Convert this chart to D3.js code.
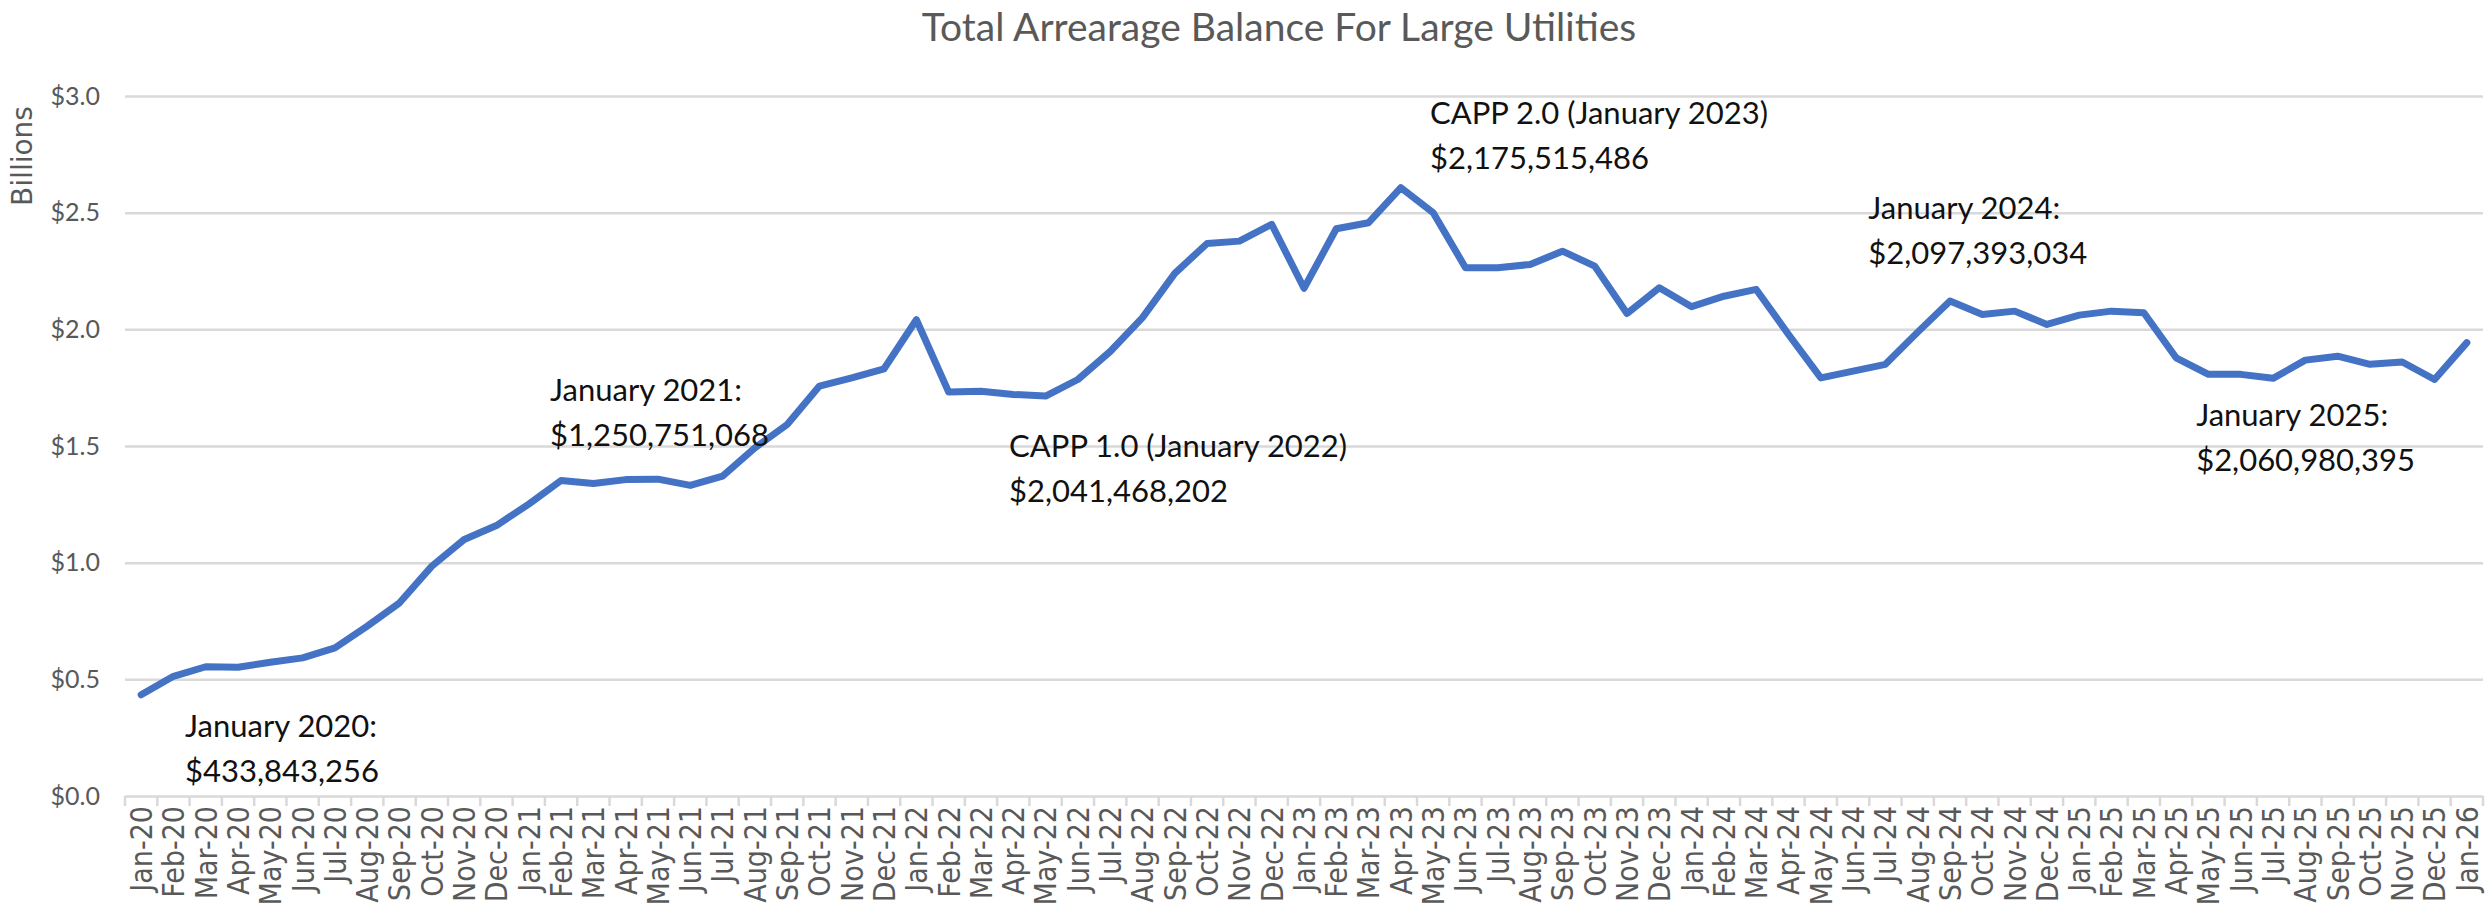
<!DOCTYPE html>
<html>
<head>
<meta charset="utf-8">
<script src="https://cdn.jsdelivr.net/npm/d3@7"></script>
<style>
  body { margin: 0; background: #fff; }
  svg { display: block; }
</style>
</head>
<body>
<div id="chart"></div>
<script>
(function() {

// monthly labels, Jan-20 .. Jan-26
var months = ["Jan-20","Feb-20","Mar-20","Apr-20","May-20","Jun-20","Jul-20","Aug-20","Sep-20","Oct-20","Nov-20","Dec-20",
  "Jan-21","Feb-21","Mar-21","Apr-21","May-21","Jun-21","Jul-21","Aug-21","Sep-21","Oct-21","Nov-21","Dec-21",
  "Jan-22","Feb-22","Mar-22","Apr-22","May-22","Jun-22","Jul-22","Aug-22","Sep-22","Oct-22","Nov-22","Dec-22",
  "Jan-23","Feb-23","Mar-23","Apr-23","May-23","Jun-23","Jul-23","Aug-23","Sep-23","Oct-23","Nov-23","Dec-23",
  "Jan-24","Feb-24","Mar-24","Apr-24","May-24","Jun-24","Jul-24","Aug-24","Sep-24","Oct-24","Nov-24","Dec-24",
  "Jan-25","Feb-25","Mar-25","Apr-25","May-25","Jun-25","Jul-25","Aug-25","Sep-25","Oct-25","Nov-25","Dec-25",
  "Jan-26"];

// total arrearage balance, billions of dollars
var balance = [0.434,0.513,0.554,0.552,0.573,0.592,0.635,0.728,0.828,0.985,1.099,1.159,
  1.251,1.352,1.339,1.356,1.358,1.331,1.371,1.492,1.592,1.757,1.792,1.831,
  2.041,1.731,1.735,1.721,1.714,1.785,1.905,2.050,2.240,2.368,2.378,2.450,
  2.176,2.431,2.457,2.607,2.500,2.264,2.264,2.278,2.335,2.271,2.068,2.178,
  2.097,2.142,2.171,1.978,1.792,1.821,1.850,1.988,2.121,2.064,2.078,2.021,
  2.061,2.078,2.071,1.878,1.807,1.807,1.790,1.868,1.885,1.850,1.860,1.785,
  1.943];

var yTicks = [0, 0.5, 1.0, 1.5, 2.0, 2.5, 3.0];

var notes = [
  {at: 1.36, v: 0.255, lines: ["January 2020:", "$433,843,256"]},
  {at: 12.66, v: 1.691, lines: ["January 2021:", "$1,250,751,068"]},
  {at: 26.87, v: 1.455, lines: ["CAPP 1.0 (January 2022)", "$2,041,468,202"]},
  {at: 39.9, v: 2.878, lines: ["CAPP 2.0 (January 2023)", "$2,175,515,486"]},
  {at: 53.47, v: 2.471, lines: ["January 2024:", "$2,097,393,034"]},
  {at: 63.62, v: 1.584, lines: ["January 2025:", "$2,060,980,395"]}
];

var W = 2491, H = 913;
var margin = {top: 96, right: 8, bottom: 117, left: 125},
    width = W - margin.left - margin.right,
    height = H - margin.top - margin.bottom;

var svg = d3.select("#chart").append("svg")
    .attr("width", W)
    .attr("height", H);

var g = svg.append("g")
    .attr("transform", "translate(" + margin.left + "," + margin.top + ")");

var x = d3.scaleBand()
    .domain(months)
    .range([0, width])
    .padding(0);

var y = d3.scaleLinear()
    .domain([0, 3])
    .range([height, 0]);

var cx = function(i) { return x(months[0]) + x.bandwidth() / 2 + i * x.step(); };

// title
svg.append("text")
  .attr("x", 1279)
  .attr("y", 41)
  .attr("text-anchor", "middle")
  .style("font-family", "Lato, 'Open Sans', sans-serif")
  .style("font-size", "39px")
  .style("fill", "#595959")
  .text("Total Arrearage Balance For Large Utilities");

// y axis title
svg.append("text")
  .attr("transform", "translate(32,156) rotate(-90)")
  .attr("text-anchor", "middle")
  .style("font-family", "'DejaVu Sans', sans-serif")
  .style("font-size", "28px")
  .style("fill", "#595959")
  .text("Billions");

// gridlines + y labels
var yAxis = g.append("g")
  .attr("class", "y axis")
  .call(d3.axisLeft(y).tickValues(yTicks).tickSize(-width).tickPadding(25)
    .tickFormat(function(d) { return "$" + d.toFixed(1); }));

yAxis.select(".domain").remove();
yAxis.selectAll(".tick line")
  .attr("stroke", "#d9d9d9")
  .attr("stroke-width", 2.5);
yAxis.selectAll(".tick text")
  .style("font-family", "Lato, 'Open Sans', sans-serif")
  .style("font-size", "25px")
  .style("fill", "#595959");

// x axis labels
var xAxis = g.append("g")
  .attr("class", "x axis")
  .attr("transform", "translate(0," + height + ")")
  .call(d3.axisBottom(x).tickSize(0).tickPadding(0));

xAxis.select(".domain").remove();
xAxis.selectAll(".tick text")
  .attr("transform", "rotate(-90) scale(1,1.12)")
  .attr("text-anchor", "end")
  .attr("x", -10)
  .attr("y", 0)
  .attr("dy", "0.36em")
  .style("font-family", "'DejaVu Sans', sans-serif")
  .style("font-size", "27px")
  .style("fill", "#595959");

// tick marks between categories
g.append("g")
  .selectAll("line")
  .data(months.concat(["end"]))
  .enter().append("line")
    .attr("x1", function(d, i) { return i * x.step(); })
    .attr("x2", function(d, i) { return i * x.step(); })
    .attr("y1", height)
    .attr("y2", height + 10)
    .attr("stroke", "#d9d9d9")
    .attr("stroke-width", 2.5);

// line
var line = d3.line()
    .x(function(d, i) { return x(months[i]) + x.bandwidth() / 2; })
    .y(function(d) { return y(d); });

g.append("path")
  .datum(balance)
  .attr("d", line)
  .style("fill", "none")
  .style("stroke", "#4472C4")
  .style("stroke-width", 7)
  .style("stroke-linejoin", "round")
  .style("stroke-linecap", "round");

// annotations
var note = g.selectAll(".note")
  .data(notes)
  .enter().append("text")
    .attr("class", "note")
    .attr("x", function(d) { return cx(d.at); })
    .attr("y", function(d) { return y(d.v); })
    .style("font-family", "Lato, 'Open Sans', sans-serif")
    .style("font-size", "31px")
    .style("fill", "#111");

note.selectAll("tspan")
  .data(function(d) { return d.lines; })
  .enter().append("tspan")
    .attr("x", function() { return d3.select(this.parentNode).attr("x"); })
    .attr("dy", function(d, i) { return i ? 45 : 0; })
    .text(function(d) { return d; });

})()
</script>
</body>
</html>
